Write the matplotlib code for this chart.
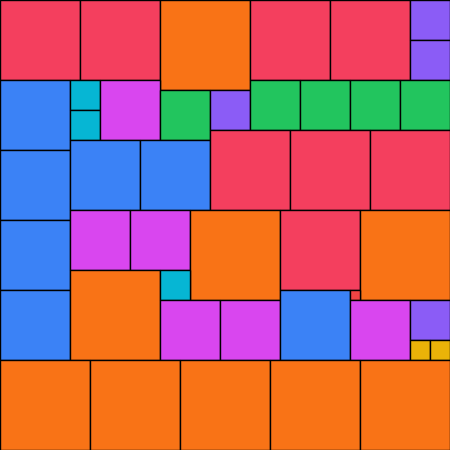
import matplotlib
matplotlib.use("Agg")
import matplotlib.pyplot as plt
from matplotlib.patches import Rectangle

# packed tiles: left, top, width, height, group
lefts = [0, 80, 160, 250, 330, 410, 410,
         0, 70, 70, 100, 160, 210, 250, 300, 350, 400,
         0, 70, 140, 210, 290, 370,
         0, 70, 130, 190, 280, 360,
         0, 70, 160, 160, 220, 280, 350, 350, 410, 410, 430,
         0, 90, 180, 270, 360]
tops = [0, 0, 0, 0, 0, 0, 40,
        80, 80, 110, 80, 90, 90, 80, 80, 80, 80,
        150, 140, 140, 130, 130, 130,
        220, 210, 210, 210, 210, 210,
        290, 270, 270, 300, 300, 290, 290, 300, 300, 340, 340,
        360, 360, 360, 360, 360]
widths = [80, 80, 90, 80, 80, 40, 40,
          70, 30, 30, 60, 50, 40, 50, 50, 50, 50,
          70, 70, 70, 80, 80, 80,
          70, 60, 60, 90, 80, 90,
          70, 90, 30, 60, 60, 70, 10, 60, 40, 20, 20,
          90, 90, 90, 90, 90]
heights = [80, 80, 90, 80, 80, 40, 40,
           70, 30, 30, 60, 50, 40, 50, 50, 50, 50,
           70, 70, 70, 80, 80, 80,
           70, 60, 60, 90, 80, 90,
           70, 90, 30, 60, 60, 70, 10, 60, 40, 20, 20,
           90, 90, 90, 90, 90]
groups = ["rose", "rose", "orange", "rose", "rose", "violet", "violet",
          "blue", "cyan", "cyan", "fuchsia", "green", "violet", "green", "green", "green", "green",
          "blue", "blue", "blue", "rose", "rose", "rose",
          "blue", "fuchsia", "fuchsia", "orange", "rose", "orange",
          "blue", "orange", "cyan", "fuchsia", "fuchsia", "blue", "red", "fuchsia", "violet", "yellow", "yellow",
          "orange", "orange", "orange", "orange", "orange"]

palette = {
    "rose": "#f43f5e",
    "orange": "#f97316",
    "violet": "#8b5cf6",
    "blue": "#3b82f6",
    "cyan": "#06b6d4",
    "fuchsia": "#d946ef",
    "green": "#22c55e",
    "yellow": "#eab308",
    "red": "#ef4444",
}

fig = plt.figure(figsize=(4.5, 4.5), dpi=100)
ax = fig.add_axes([0, 0, 1, 1])
for x, y, w, h, g in zip(lefts, tops, widths, heights, groups):
    ax.add_patch(Rectangle((x, y), w, h, facecolor=palette[g],
                           edgecolor="black", linewidth=1))
ax.set_xlim(0, 450)
ax.set_ylim(450, 0)
ax.axis("off")

fig.savefig("out.png", dpi=100)
